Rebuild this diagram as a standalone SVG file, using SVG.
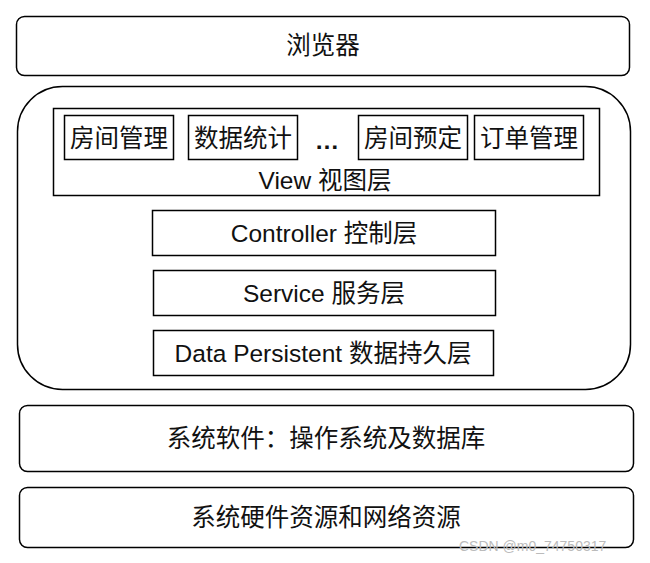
<svg xmlns="http://www.w3.org/2000/svg" width="650" height="563" viewBox="0 0 650 563">
<style>
.b{fill:#fff;stroke:#000;stroke-width:1.5}
.t{font-family:"Liberation Sans","Noto Sans CJK SC",sans-serif;font-size:24.5px;fill:#111;text-anchor:middle;dominant-baseline:central}
.m{font-family:"Liberation Sans","Noto Sans CJK SC",sans-serif;font-size:14px;fill:#bbb}
</style>
<rect width="650" height="563" fill="#fff"/>
<g id="browser"><rect class="b" x="16.5" y="16.5" width="613" height="59" rx="8"/><text class="t" x="323" y="45">浏览器</text></g>
<g id="app"><rect class="b" x="17.5" y="86.5" width="613" height="303" rx="45"/></g>
<g id="view"><rect class="b" x="53.5" y="108.5" width="546" height="87"/><text class="t" x="325" y="180">View 视图层</text></g>
<g id="m1"><rect class="b" x="64.5" y="115.5" width="109" height="44"/><text class="t" x="119" y="138">房间管理</text></g>
<g id="m2"><rect class="b" x="188.5" y="115.5" width="109" height="44"/><text class="t" x="243" y="138">数据统计</text></g>
<g id="dots"><text class="t" x="327" y="140" font-weight="bold">…</text></g>
<g id="m3"><rect class="b" x="358.5" y="115.5" width="109" height="44"/><text class="t" x="413" y="138">房间预定</text></g>
<g id="m4"><rect class="b" x="474.5" y="115.5" width="109" height="44"/><text class="t" x="529" y="138">订单管理</text></g>
<g id="controller"><rect class="b" x="152.5" y="210.5" width="343" height="45"/><text class="t" x="324" y="233">Controller 控制层</text></g>
<g id="service"><rect class="b" x="153.5" y="270.5" width="342" height="45"/><text class="t" x="324" y="293">Service 服务层</text></g>
<g id="data"><rect class="b" x="153.5" y="330.5" width="340" height="45"/><text class="t" x="323" y="353">Data Persistent 数据持久层</text></g>
<g id="syssoft"><rect class="b" x="19.5" y="405.5" width="614" height="66" rx="8"/><text class="t" x="326" y="438">系统软件：操作系统及数据库</text></g>
<g id="hw"><rect class="b" x="19.5" y="487.5" width="614" height="60" rx="8"/><text class="t" x="326" y="517">系统硬件资源和网络资源</text></g>
<g id="connectors"></g>
<text class="m" x="459" y="551">CSDN @m0_74750317</text>
</svg>
